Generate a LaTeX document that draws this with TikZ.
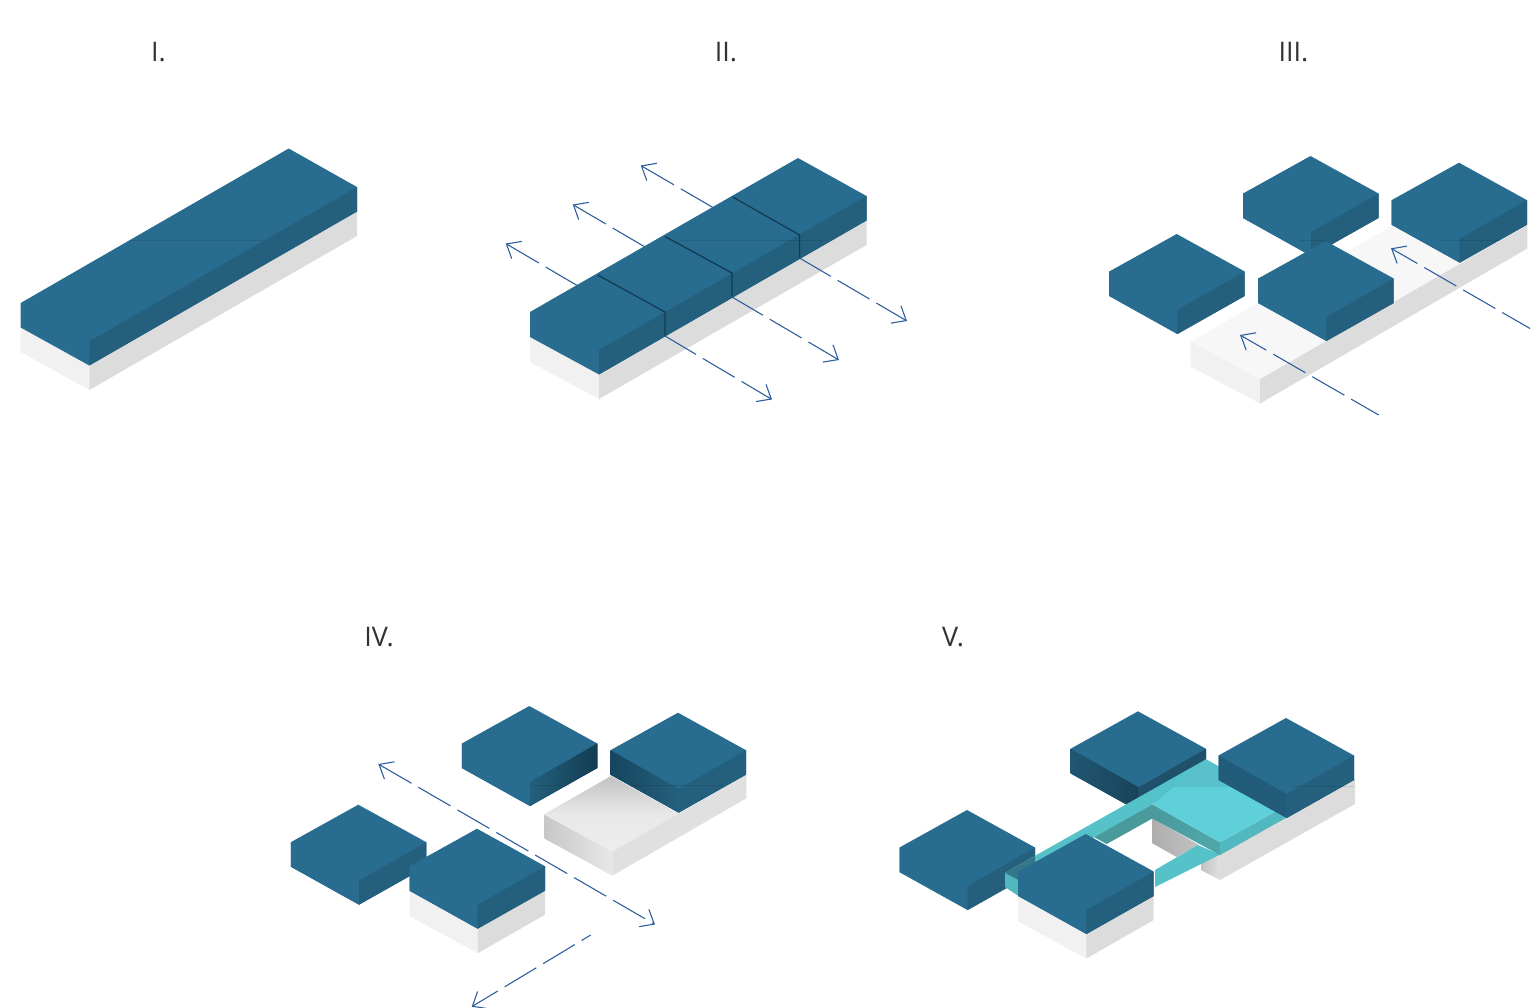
\documentclass[tikz,border=0pt]{standalone}
\usepackage{fontspec}
\setmainfont{Open Sans}
\usetikzlibrary{arrows.meta}
\definecolor{blueTop}{HTML}{286C90}
\definecolor{blueRight}{HTML}{24607D}
\definecolor{blueSeam}{HTML}{123C52}
\definecolor{baseTop}{HTML}{F7F7F7}
\definecolor{baseLeft}{HTML}{F1F1F1}
\definecolor{baseRight}{HTML}{DCDCDC}
\definecolor{tealTop}{HTML}{5FCFD9}
\definecolor{tealStrip}{HTML}{55C1C9}
\definecolor{tealRight}{HTML}{50B8BE}
\definecolor{tealFront}{HTML}{4FA6A9}
\definecolor{tealBack}{HTML}{4A9A9C}
\definecolor{flowBlue}{HTML}{2E5F9E}
\definecolor{labelInk}{HTML}{333333}
\tikzset{
  paneltitle/.style={font=\fontsize{27}{30}\selectfont,text=labelInk,inner sep=0pt,anchor=center},
  flowline/.style={draw=flowBlue,line width=1.1pt,dash pattern=on 37pt off 8pt},
  flow/.style={flowline,{Straight Barb[length=12pt,width=20pt,line width=1.1pt]}-},
  flowboth/.style={flowline,{Straight Barb[length=12pt,width=20pt,line width=1.1pt]}-{Straight Barb[length=12pt,width=20pt,line width=1.1pt]}},
  seam/.style={draw=blueSeam,line width=1.3pt},
  artefact/.style={draw=black,opacity=.1,line width=0.7pt},
}
% #1,#2 apex of the top face; #3 colour of the left face, #4 of the right face
\newcommand{\slab}[4]{%
  \begin{scope}[shift={(#1,#2)}]
    \fill[blueTop] (0,0) -- (68,37.5) -- (68,62) -- (0.7,100) -- (-67.5,62) -- (-67.5,37.5) -- cycle;
    \fill[#3] (-67.5,37.5) -- (0.7,76) -- (0.7,100) -- (-67.5,62) -- cycle;
    \fill[#4] (0.7,76) -- (68,37.5) -- (68,62) -- (0.7,100) -- cycle;
  \end{scope}}
% plinth under a single slab, same apex
\newcommand{\plinth}[2]{%
  \begin{scope}[shift={(#1,#2)}]
    \fill[baseLeft] (-67.5,60) -- (0.7,98) -- (0.7,124.5) -- (-67.5,87.5) -- cycle;
    \fill[baseRight] (0.7,98) -- (68,60) -- (68,86) -- (0.7,124.5) -- cycle;
  \end{scope}}
\begin{document}
\begin{tikzpicture}[x=1pt,y=-1pt]
\useasboundingbox (0,0) rectangle (1531,1007);

% ---------- titles
\node[paneltitle] (t1) at (158.5,52) {I.};
\node[paneltitle] (t2) at (726,52) {II.};
\node[paneltitle] (t3) at (1293.5,52) {III.};
\node[paneltitle] (t4) at (379,637) {IV.};
\node[paneltitle] (t5) at (953,637) {V.};

% ---------- panel I
\fill[baseLeft] (20.7,327) -- (89.3,365) -- (89.3,390) -- (20.7,352) -- cycle;
\fill[baseRight] (89.3,365) -- (357,211) -- (357,236) -- (89.3,390) -- cycle;
\fill[blueTop] (20.7,303) -- (288.7,148.5) -- (357,187) -- (357,211.5) -- (89.3,365.5) -- (20.7,327.5) -- cycle;
\fill[blueRight] (90,341) -- (357,187) -- (357,211.5) -- (89.3,365.5) -- cycle;
\draw[artefact] (130,240.5) -- (267,240.5);

% ---------- panel II
\fill[baseLeft] (530,337) -- (599,375) -- (599,399) -- (530,362) -- cycle;
\fill[baseRight] (599,375) -- (866.5,220) -- (866.5,245) -- (599,399) -- cycle;
\coordinate (a1a) at (505.7,243.5); \coordinate (a1b) at (578,286);
\coordinate (a1c) at (772,399.5);   \coordinate (a1d) at (665,336);
\coordinate (a2a) at (572.7,204.5); \coordinate (a2b) at (645,247);
\coordinate (a2c) at (839,360);     \coordinate (a2d) at (732,297);
\coordinate (a3a) at (640.7,165.5); \coordinate (a3b) at (713,207.5);
\coordinate (a3c) at (907,321);     \coordinate (a3d) at (799.5,258);
\draw[flow] (a1a) -- (a1b);
\draw[flow] (a2a) -- (a2b);
\draw[flow] (a3a) -- (a3b);
\draw[flow,dash phase=3pt] (a1c) -- (a1d);
\draw[flow,dash phase=3pt] (a2c) -- (a2d);
\draw[flow,dash phase=3pt] (a3c) -- (a3d);
\fill[blueTop] (530,312) -- (798,158) -- (866.5,196) -- (866.5,220.5) -- (599,374.5) -- (530,337) -- cycle;
\fill[blueRight] (599,350) -- (866.5,196) -- (866.5,220.5) -- (599,374.5) -- cycle;
\draw[seam] (597.7,275) -- (665,312) -- (665,335.5);
\draw[seam] (665,236.5) -- (732,273) -- (732,296.5);
\draw[seam] (732.7,197) -- (799.5,235) -- (799.5,257.5);
\draw[artefact] (680,240.5) -- (823,240.5);

% ---------- panel III
\fill[baseTop] (1190.7,341.7) -- (1459,187) -- (1527.3,225) -- (1260,379.3) -- cycle;
\fill[baseLeft] (1190.7,341.7) -- (1260,379.3) -- (1260,403.5) -- (1190.7,366.7) -- cycle;
\fill[baseRight] (1260,379.3) -- (1527.3,225) -- (1527.3,248.5) -- (1260,403.5) -- cycle;
\slab{1176.7}{234}{blueTop}{blueRight}
\slab{1310.5}{156}{blueTop}{blueRight}
\slab{1459}{162.7}{blueTop}{blueRight}
\slab{1325.7}{241}{blueTop}{blueRight}
\draw[artefact] (1300,240.5) -- (1325,240.5);
\draw[artefact] (1442,240.5) -- (1500,240.5);
\coordinate (a4a) at (1240,335);    \coordinate (a4b) at (1378.7,415);
\coordinate (a5a) at (1391,248.3);  \coordinate (a5b) at (1530,328.5);
\draw[flow,dash phase=8pt] (a4a) -- (a4b);
\draw[flow,dash phase=8pt] (a5a) -- (a5b);

% ---------- panel IV
\shade[left color=black!22,right color=black!9] (544,814.3) -- (612.3,851.7) -- (612.3,875.7) -- (544,838.3) -- cycle;
\shade[top color=black!24,bottom color=black!7,middle color=black!9] (544,814.3) -- (611,776) -- (690,820) -- (612.3,851.7) -- cycle;
\fill[black!7] (612.3,851.7) -- (690,807) -- (690,815) -- cycle;
\fill[black!12] (612.3,851.7) -- (746.3,775) -- (746.3,798.3) -- (612.3,875.7) -- cycle;
\slab{358.3}{804.7}{blueTop}{blueRight}
\plinth{477}{828.7}
\slab{477}{828.7}{blueTop}{blueRight}
\slab{529.3}{706}{blueTop}{blueRight}
\shade[left color=blueRight,right color=blueSeam] (530,782) -- (597.3,743.5) -- (597.3,768) -- (530,806) -- cycle;
\slab{678}{712.7}{blueTop}{blueRight}
\shade[left color=blueSeam!80!blueTop,right color=blueRight] (610.5,750.2) -- (678.7,788.7) -- (678.7,812.7) -- (610.5,774.7) -- cycle;
\draw[artefact] (530,785) -- (570,785);
\draw[artefact] (630,785) -- (722,785);
\coordinate (a6a) at (378.3,764);   \coordinate (a6b) at (655,924.5);
\coordinate (a7a) at (471.7,1006.7);\coordinate (a7b) at (590.7,935);
\draw[flowboth] (a6a) -- (a6b);
\draw[flow,dash phase=8pt] (a7a) -- (a7b);

% ---------- panel V
% plinth seen through the opening and below the link
\shade[left color=black!32,right color=black!24] (1152.3,818) -- (1199,845) -- (1176.7,857) -- (1152.3,843.3) -- cycle;
\shade[left color=black!24,right color=black!12] (1201,862) -- (1220,852) -- (1220,880) -- (1201,870) -- cycle;
\fill[baseRight] (1220,853) -- (1355,778) -- (1355,804) -- (1220,880) -- cycle;
% block A and block C sit behind the teal link
\slab{967}{810}{blueTop}{blueRight}
\slab{1138}{711.3}{blueTop}{blueRight!85!black}
\shade[left color=blueTop!80!black,right color=blueRight!70!black] (1070.5,748.8) -- (1138.7,787.3) -- (1138.7,811.3) -- (1070.5,773.3) -- cycle;
% teal link
\fill[tealBack] (1152.3,804.3) -- (1152.3,818.5) -- (1106.7,844) -- (1093.3,836.7) -- cycle;
\fill[tealStrip] (1155,870) -- (1198,845) -- (1220,854.5) -- (1155,887) -- cycle;
\shade[left color=tealBack,right color=tealFront!90!tealRight] (1152.3,804.3) -- (1220,842.3) -- (1220,855) -- (1152.3,818.5) -- cycle;
\fill[tealRight] (1220,842.3) -- (1287,805) -- (1287,817.3) -- (1220,855) -- cycle;
\fill[tealStrip] (1206,759.3) -- (1005,872.7) -- (1018.5,880) -- (1152.3,804.3) -- cycle;
\fill[tealTop] (1206,759.3) -- (1287,805) -- (1220,842.3) -- (1152.3,804.3) -- cycle;
\begin{scope}
  \clip (1100,750) rectangle (1300,786);
  \fill[tealTop!93!black] (1206,759.3) -- (1287,805) -- (1220,842.3) -- (1152.3,804.3) -- cycle;
\end{scope}
\fill[tealRight] (1005,872.7) -- (1018.5,880) -- (1018.5,896) -- (1005,887) -- cycle;
\fill[blueRight!60!tealBack] (1005,872.7) -- (1035,856) -- (1035,872) -- (1018.5,880) -- cycle;
% block D
\slab{1286}{718}{blueTop!85!black}{blueRight}
% block B on its plinth
\plinth{1085.7}{834}
\slab{1085.7}{834}{blueTop}{blueRight}
\draw[artefact] (1290,786) -- (1354,786);
\end{tikzpicture}
\end{document}
